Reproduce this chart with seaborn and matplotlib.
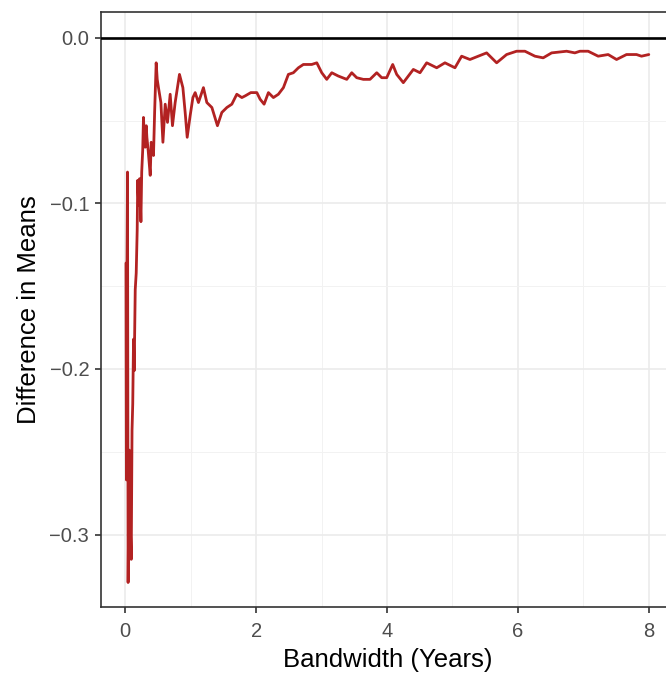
import numpy as np
import pandas as pd
import matplotlib
matplotlib.use("Agg")
import matplotlib.pyplot as plt
from matplotlib.ticker import MultipleLocator
import seaborn as sns

# bandwidth (years) and the difference in means
bandwidth = [
    0.012, 0.018, 0.024, 0.035, 0.044, 0.061, 0.076, 0.092, 0.104, 0.115,
    0.127, 0.137, 0.153, 0.168, 0.183, 0.191, 0.206, 0.221, 0.240, 0.252,
    0.267, 0.279, 0.293, 0.305, 0.321, 0.331, 0.351, 0.382, 0.397, 0.432,
    0.450, 0.473, 0.489, 0.508, 0.545, 0.576, 0.611, 0.646, 0.687, 0.722,
    0.763, 0.798, 0.829, 0.881, 0.916, 0.947, 0.992, 1.034, 1.069, 1.119,
    1.195, 1.247, 1.324, 1.409, 1.476, 1.553, 1.629, 1.705, 1.782, 1.832,
    1.919, 2.011, 2.061, 2.122, 2.188, 2.264, 2.340, 2.417, 2.493, 2.569,
    2.646, 2.722, 2.798, 2.850, 2.927, 3.003, 3.079, 3.156, 3.256, 3.385,
    3.461, 3.537, 3.638, 3.740, 3.843, 3.919, 3.995, 4.087, 4.148, 4.249,
    4.402, 4.504, 4.606, 4.759, 4.885, 5.038, 5.140, 5.267, 5.394, 5.522,
    5.675, 5.827, 5.980, 6.107, 6.260, 6.386, 6.515, 6.744, 6.870, 6.947,
    7.073, 7.226, 7.379, 7.507, 7.659, 7.812, 7.888, 8.000,
]
diff_means = [
    -0.136, -0.267, -0.158, -0.081, -0.329, -0.249, -0.291, -0.315, -0.237, -0.221,
    -0.182, -0.201, -0.152, -0.142, -0.116, -0.086, -0.101, -0.085, -0.111, -0.081,
    -0.068, -0.048, -0.062, -0.066, -0.053, -0.060, -0.068, -0.083, -0.063, -0.071,
    -0.044, -0.015, -0.025, -0.030, -0.039, -0.063, -0.040, -0.051, -0.034, -0.053,
    -0.039, -0.030, -0.022, -0.030, -0.045, -0.060, -0.047, -0.036, -0.033, -0.039,
    -0.030, -0.039, -0.042, -0.053, -0.045, -0.042, -0.040, -0.034, -0.036, -0.035,
    -0.033, -0.033, -0.037, -0.040, -0.033, -0.036, -0.034, -0.030, -0.022, -0.021,
    -0.018, -0.016, -0.016, -0.016, -0.015, -0.021, -0.025, -0.021, -0.023, -0.025,
    -0.021, -0.024, -0.025, -0.025, -0.021, -0.024, -0.024, -0.016, -0.022, -0.027,
    -0.019, -0.021, -0.015, -0.018, -0.015, -0.018, -0.011, -0.013, -0.011, -0.009,
    -0.015, -0.010, -0.008, -0.008, -0.011, -0.012, -0.009, -0.008, -0.009, -0.008,
    -0.008, -0.011, -0.010, -0.013, -0.010, -0.010, -0.011, -0.010,
]
x_ticks = [0, 2, 4, 6, 8]
y_ticks = [0.0, -0.1, -0.2, -0.3]

df = pd.DataFrame({"bandwidth": bandwidth, "diff": diff_means})

sns.set_theme(style="white")
plt.rcParams["font.family"] = ["Liberation Sans", "DejaVu Sans"]

fig = plt.figure(figsize=(6.66, 6.75), dpi=100)
# panel runs past the right edge of the picture, as in the original
ax = fig.add_axes([101 / 666, 68 / 675, 574 / 666, 595 / 675])

sns.lineplot(data=df, x="bandwidth", y="diff", color="#B22222",
             linewidth=2.0, sort=False, ax=ax, zorder=3)
ax.axhline(0, color="black", linewidth=1.9, zorder=4)

ax.set_xlim(-0.37, 8.4)
ax.set_ylim(-0.3438, 0.0157)
ax.set_xticks(x_ticks)
ax.set_xticklabels([str(t) for t in x_ticks])
ax.set_yticks(y_ticks)
ax.set_yticklabels(["0.0", "\u22120.1", "\u22120.2", "\u22120.3"])
ax.xaxis.set_minor_locator(MultipleLocator(1))
ax.yaxis.set_minor_locator(MultipleLocator(0.05))

ax.grid(True, which="major", color="#EBEBEB", linewidth=1.2, zorder=0)
ax.grid(True, which="minor", color="#F2F2F2", linewidth=0.7, zorder=0)
ax.set_axisbelow(True)

for s in ax.spines.values():
    s.set_color("#333333")
    s.set_linewidth(1.2)

ax.tick_params(axis="both", which="major", length=4.5, width=1.2,
               color="#333333", labelcolor="#4D4D4D", labelsize=14.5, pad=4,
               bottom=True, left=True)
ax.tick_params(axis="x", which="major", pad=6)
ax.tick_params(axis="both", which="minor", length=0)

ax.set_xlabel("Bandwidth (Years)", fontsize=18.5, color="black", labelpad=5)
ax.set_ylabel("Difference in Means", fontsize=18.5, color="black", labelpad=6)

fig.savefig("out.png", dpi=100)
